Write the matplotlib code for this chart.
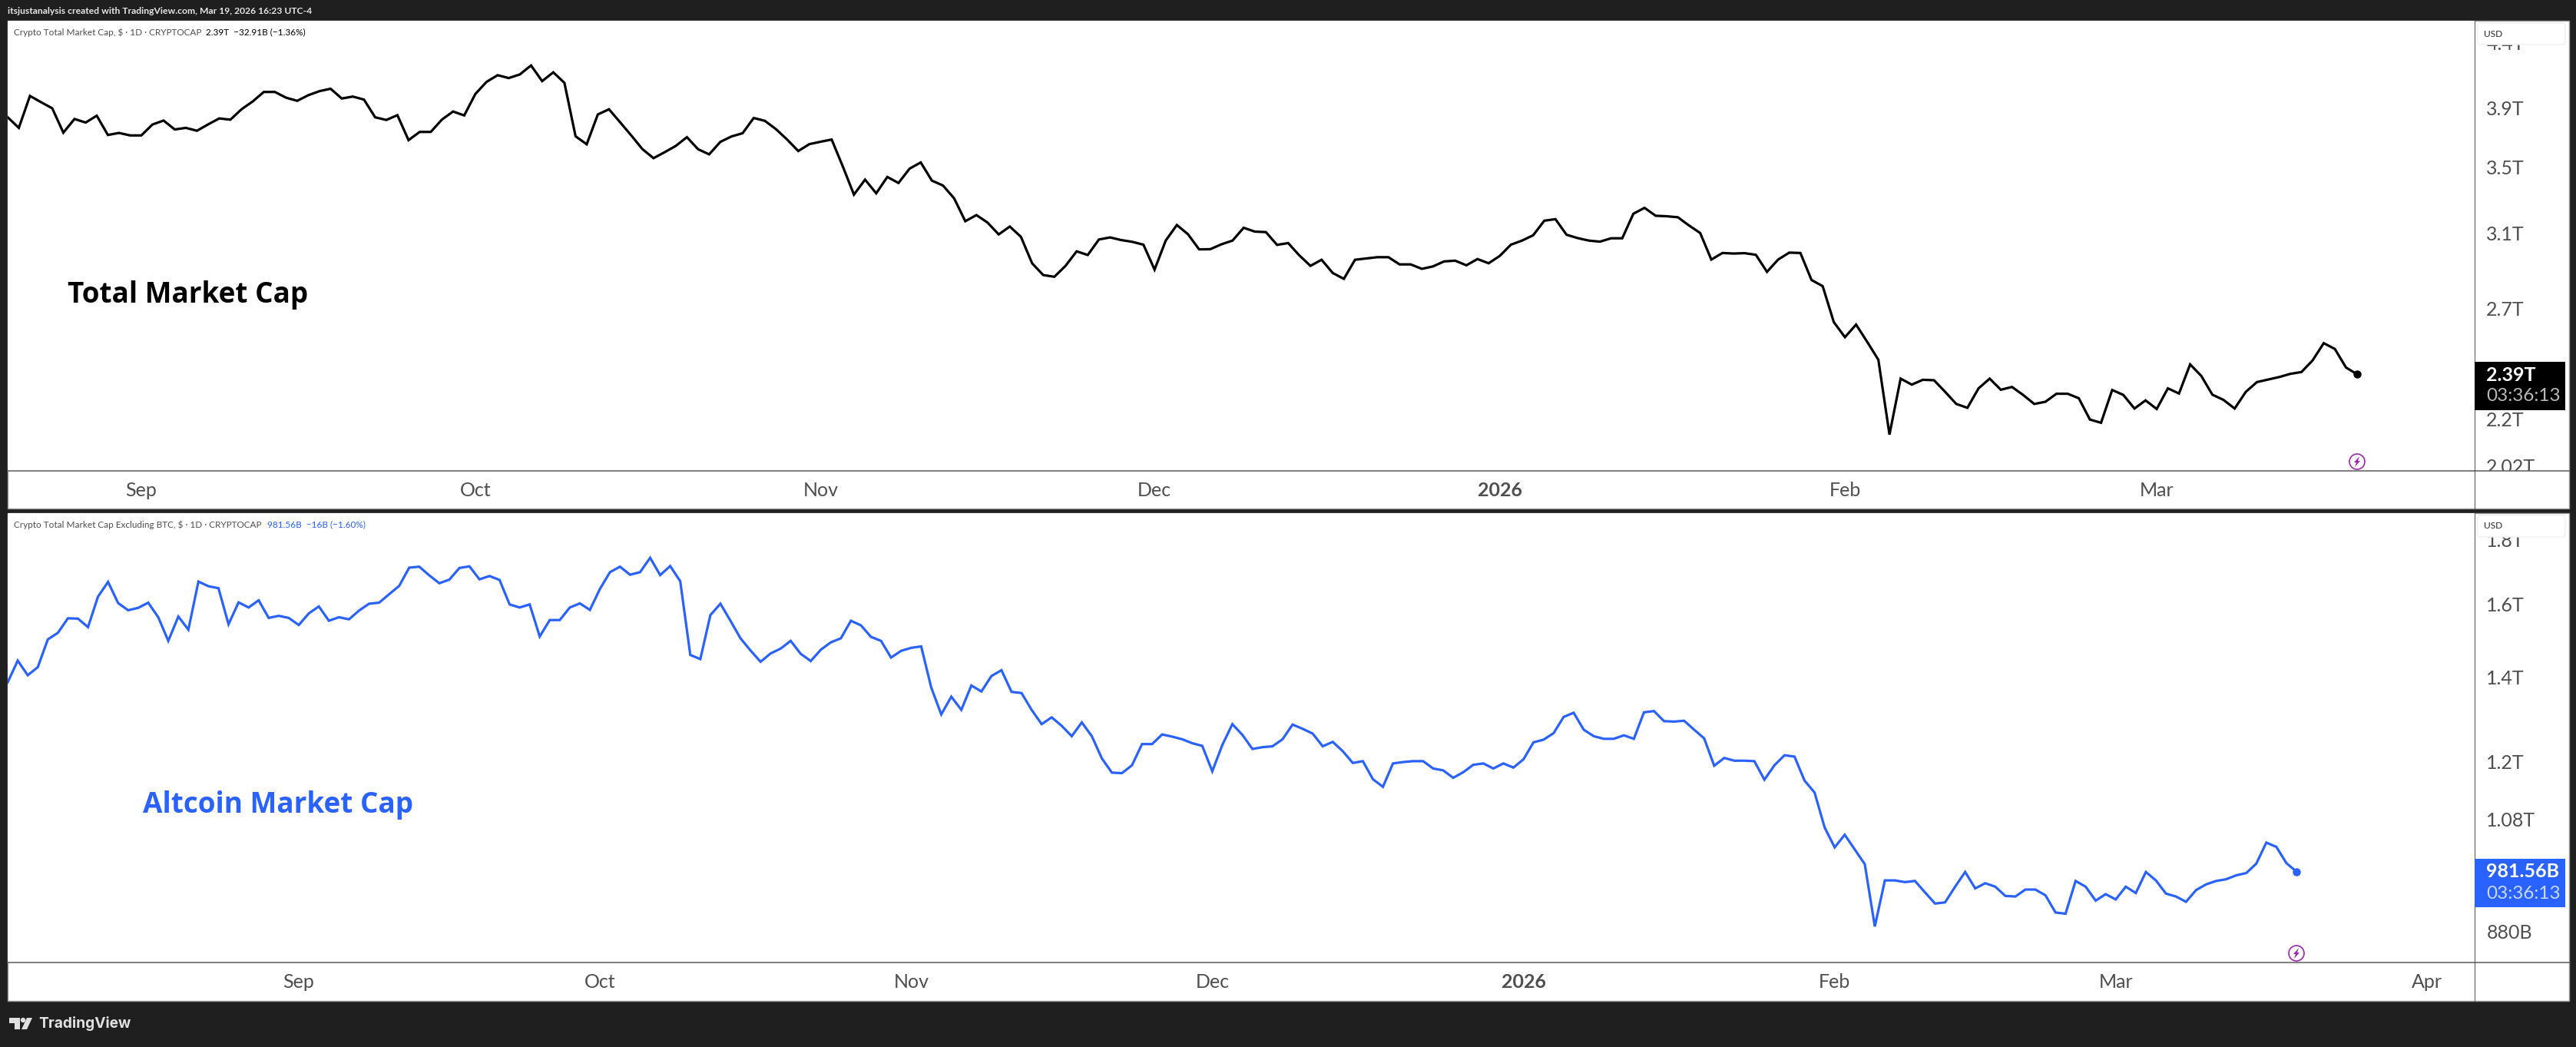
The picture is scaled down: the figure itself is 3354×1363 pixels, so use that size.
import pandas as pd
import matplotlib.pyplot as plt
import matplotlib.dates as mdates
from matplotlib.patches import Rectangle, Circle, Polygon, FancyBboxPatch
from matplotlib.lines import Line2D
from matplotlib.ticker import NullLocator
from matplotlib.transforms import Affine2D, Bbox

# --------------------------------------------------------------
# Data
# --------------------------------------------------------------
total_start = "2025-08-20"
total_cap = [  # trillion USD
    3.836, 3.762, 3.990, 3.944, 3.900, 3.729, 3.824, 3.799, 3.847, 3.713,
    3.727, 3.710, 3.710, 3.785, 3.813, 3.751, 3.762, 3.742, 3.786, 3.828,
    3.819, 3.893, 3.949, 4.019, 4.019, 3.977, 3.954, 3.995, 4.025, 4.043,
    3.971, 3.985, 3.963, 3.836, 3.817, 3.851, 3.678, 3.734, 3.734, 3.820,
    3.877, 3.849, 4.004, 4.094, 4.145, 4.123, 4.151, 4.220, 4.100, 4.167,
    4.087, 3.704, 3.650, 3.856, 3.893, 3.801, 3.710, 3.618, 3.558, 3.597,
    3.639, 3.698, 3.617, 3.583, 3.666, 3.703, 3.725, 3.831, 3.811, 3.753,
    3.682, 3.605, 3.651, 3.667, 3.682, 3.504, 3.327, 3.420, 3.335, 3.437,
    3.399, 3.490, 3.530, 3.414, 3.383, 3.304, 3.168, 3.204, 3.160, 3.092,
    3.137, 3.078, 2.932, 2.869, 2.860, 2.918, 2.997, 2.977, 3.063, 3.075,
    3.060, 3.050, 3.034, 2.898, 3.057, 3.146, 3.093, 3.008, 3.009, 3.036,
    3.057, 3.130, 3.108, 3.105, 3.033, 3.043, 2.975, 2.918, 2.951, 2.880,
    2.849, 2.951, 2.958, 2.965, 2.965, 2.926, 2.926, 2.902, 2.915, 2.942,
    2.946, 2.921, 2.955, 2.932, 2.972, 3.034, 3.057, 3.087, 3.171, 3.180,
    3.090, 3.071, 3.057, 3.051, 3.070, 3.070, 3.212, 3.247, 3.200, 3.197,
    3.191, 3.143, 3.100, 2.952, 2.988, 2.985, 2.987, 2.978, 2.886, 2.952,
    2.990, 2.988, 2.843, 2.811, 2.631, 2.559, 2.619, 2.537, 2.455, 2.139,
    2.371, 2.345, 2.366, 2.364, 2.314, 2.263, 2.247, 2.329, 2.371, 2.323,
    2.335, 2.301, 2.263, 2.272, 2.306, 2.306, 2.287, 2.199, 2.186, 2.322,
    2.301, 2.244, 2.278, 2.242, 2.329, 2.307, 2.434, 2.383, 2.302, 2.280,
    2.244, 2.314, 2.356, 2.367, 2.378, 2.392, 2.400, 2.452, 2.531, 2.504,
    2.420, 2.390,
]
alt_start = "2025-08-03"
alt_cap = [  # billion USD
    1387, 1443, 1405, 1426, 1500, 1518, 1559, 1558, 1534, 1622,
    1666, 1603, 1582, 1589, 1604, 1562, 1496, 1564, 1527, 1667,
    1653, 1647, 1542, 1605, 1590, 1611, 1560, 1566, 1560, 1540,
    1573, 1593, 1552, 1562, 1556, 1581, 1601, 1604, 1629, 1654,
    1710, 1713, 1686, 1662, 1673, 1709, 1714, 1674, 1684, 1672,
    1599, 1590, 1599, 1508, 1554, 1554, 1590, 1602, 1583, 1645,
    1696, 1713, 1688, 1696, 1741, 1687, 1715, 1668, 1458, 1447,
    1568, 1601, 1552, 1503, 1470, 1440, 1462, 1475, 1496, 1461,
    1442, 1472, 1492, 1503, 1552, 1539, 1507, 1496, 1451, 1469,
    1477, 1481, 1374, 1308, 1351, 1319, 1379, 1364, 1403, 1418,
    1363, 1360, 1319, 1285, 1301, 1281, 1257, 1289, 1257, 1207,
    1176, 1175, 1192, 1239, 1239, 1261, 1256, 1250, 1241, 1235,
    1179, 1237, 1285, 1260, 1228, 1232, 1234, 1250, 1284, 1274,
    1263, 1234, 1244, 1223, 1197, 1201, 1162, 1146, 1196, 1199,
    1201, 1201, 1185, 1181, 1165, 1177, 1193, 1196, 1185, 1196,
    1187, 1205, 1243, 1249, 1264, 1302, 1312, 1272, 1257, 1251,
    1251, 1259, 1251, 1313, 1316, 1292, 1291, 1293, 1272, 1252,
    1191, 1208, 1202, 1202, 1201, 1161, 1192, 1214, 1211, 1159,
    1134, 1064, 1026, 1050, 1022, 995, 888, 966, 966, 963,
    965, 945, 926, 928, 955, 981, 952, 961, 955, 939,
    938, 950, 950, 940, 911, 909, 965, 955, 931, 942,
    933, 955, 944, 981, 966, 943, 938, 929, 949, 959,
    965, 968, 975, 979, 996, 1035, 1027, 997, 981.56,
]

total_yticks = [2.02, 2.2, 2.7, 3.1, 3.5, 3.9, 4.4]
total_ylabels = ["2.02T", "2.2T", "2.7T", "3.1T", "3.5T", "3.9T", "4.4T"]
alt_yticks = [880, 1080, 1200, 1400, 1600, 1800]
alt_ylabels = ["880B", "1.08T", "1.2T", "1.4T", "1.6T", "1.8T"]

total_xticks = ["2025-09-01", "2025-10-01", "2025-11-01", "2025-12-01", "2026-01-01", "2026-02-01", "2026-03-01"]
total_xlabels = ["Sep", "Oct", "Nov", "Dec", "2026", "Feb", "Mar"]
alt_xticks = total_xticks + ["2026-04-01"]
alt_xlabels = total_xlabels + ["Apr"]

BLUE = "#2962FF"
DARK = "#1f1f1f"
GREY = "#4f4f4f"
LINE = "#5d5d5d"
W, H = 3355, 1363
FONT = "Lato"

plt.rcParams["font.family"] = [FONT, "DejaVu Sans"]
fig = plt.figure(figsize=(W / 100, H / 100), dpi=100, facecolor=DARK)
# decorations are placed in picture pixels, y going down
PX = Affine2D().scale(1, -1).translate(0, H)


def pane(y_top, y_axis, y_bottom, values, start, ylim, xdays, yticks, ylabels, xticks, xlabels, color):
    fig.add_artist(Rectangle((10, y_top), 3335, y_bottom - y_top, transform=PX, fc="white", ec="#9a9a9a", lw=1, zorder=-1))
    ax = fig.add_axes([10 / W, 1 - y_axis / H, 3212 / W, (y_axis - y_top) / H], yscale="log")
    dates = pd.date_range(start, periods=len(values))
    ax.plot(dates, values, color=color, lw=2.3, solid_joinstyle="miter")
    ax.plot(dates[-1:], values[-1:], "o", color=color, ms=6.5)
    x0 = mdates.date2num(dates[0])
    ax.set_xlim(x0, x0 + xdays)
    ax.set_ylim(*ylim)
    ax.set_xticks(pd.to_datetime(xticks), xlabels)
    ax.set_yticks(yticks, ylabels)
    ax.yaxis.set_minor_locator(NullLocator())
    ax.xaxis.set_minor_locator(NullLocator())
    ax.yaxis.tick_right()
    ax.tick_params(axis="both", length=0, labelsize=18, labelcolor=GREY)
    ax.tick_params(axis="x", pad=10)
    ax.tick_params(axis="y", pad=11)
    for s in ["top", "left"]:
        ax.spines[s].set_visible(False)
    ax.spines["bottom"].set_color(LINE)
    ax.spines["right"].set_color(LINE)
    ax.spines["bottom"].set_linewidth(1.1)
    ax.spines["right"].set_linewidth(0.8)
    for lab in ax.get_xticklabels():
        if lab.get_text() == "2026":
            lab.set_fontweight("bold")
    clip = Bbox.from_extents(3222, H - y_axis, 3345, H - y_top)
    for lab in ax.get_yticklabels():
        lab.set_clip_on(True)
        lab.set_clip_box(clip)
    # time scale band and its right border, USD box
    fig.add_artist(Line2D([3222, 3222], [y_axis, y_bottom], transform=PX, color=LINE, lw=0.8))
    fig.add_artist(Line2D([3222, 3345], [y_axis, y_axis], transform=PX, color=LINE, lw=1.1))
    fig.add_artist(FancyBboxPatch((3226, y_top + 3), 114, 28, boxstyle="round,pad=0,rounding_size=4", transform=PX, fc="white", ec="#f0f0f0", lw=1))
    fig.text(3234, y_top + 17, "USD", transform=PX, fontsize=8.6, color="#222222", va="center")
    return ax


# --------------------------------------------------------------
# Top pane: total market cap
# --------------------------------------------------------------
ax1 = pane(27, 613, 662, total_cap, total_start, (2.0007, 4.582), 221.55,
           total_yticks, total_ylabels, total_xticks, total_xlabels, "black")
# --------------------------------------------------------------
# Bottom pane: altcoin market cap
# --------------------------------------------------------------
ax2 = pane(668, 1253, 1303, alt_cap, alt_start, (831.5, 1889.0), 245.75,
           alt_yticks, alt_ylabels, alt_xticks, alt_xlabels, BLUE)


def flash(x, y):
    fig.add_artist(Circle((x, y), 10, transform=PX, fc="white", ec="#9c27b0", lw=1.2))
    fig.add_artist(Polygon([(x + 3, y - 7), (x - 4, y + 1), (x - 1, y + 1), (x - 3, y + 7), (x + 4, y - 1), (x + 1, y - 1)],
                           transform=PX, fc="#9c27b0", ec="none"))


def price_tag(y_top, y_bot, bg, price, clock, clock_color):
    fig.add_artist(Rectangle((3222, y_top), 118, y_bot - y_top, transform=PX, fc=bg, ec="none"))
    fig.text(3237, y_top + 17, price, transform=PX, color="white", fontsize=18, fontweight="bold", va="center")
    fig.text(3237, y_top + 45, clock, transform=PX, color=clock_color, fontsize=17.5, va="center")


flash(3069, 601)
flash(2990, 1241)
price_tag(471, 534, "black", "2.39T", "03:36:13", "#b8b8b8")
price_tag(1118, 1181, BLUE, "981.56B", "03:36:13", "#c9d8ff")

# --------------------------------------------------------------
# Texts
# --------------------------------------------------------------
fig.text(10, 15, "itsjustanalysis created with TradingView.com, Mar 19, 2026 16:23 UTC-4", transform=PX,
         color="#e6e6e6", fontsize=8.7, va="center", fontweight="bold")
fig.text(18, 42, "Crypto Total Market Cap, $ · 1D · CRYPTOCAP", transform=PX, color=GREY, fontsize=8.5, va="center")
fig.text(268, 42, "2.39T  −32.91B (−1.36%)", transform=PX, color="black", fontsize=8.5, va="center")
fig.text(18, 683, "Crypto Total Market Cap Excluding BTC, $ · 1D · CRYPTOCAP", transform=PX, color=GREY, fontsize=8.5, va="center")
fig.text(348, 683, "981.56B  −16B (−1.60%)", transform=PX, color=BLUE, fontsize=8.5, va="center")

fig.text(88, 384, "Total Market Cap", transform=PX, color="black", fontsize=26.6, fontweight="bold", va="center", family="Open Sans")
fig.text(186, 1048, "Altcoin Market Cap", transform=PX, color=BLUE, fontsize=26.6, fontweight="bold", va="center", family="Open Sans")

# TradingView mark
fig.add_artist(Polygon([(12, 1325), (26, 1325), (26, 1340), (19, 1340), (19, 1332), (12, 1332)], transform=PX, fc="#e0e0e0", ec="none"))
fig.add_artist(Circle((30, 1328), 3.2, transform=PX, fc="#e0e0e0", ec="none"))
fig.add_artist(Polygon([(35, 1325), (42, 1325), (35, 1340), (28, 1340)], transform=PX, fc="#e0e0e0", ec="none"))
fig.text(50, 1333, "TradingView", transform=PX, color="#e0e0e0", fontsize=13.8, fontweight="bold", va="center", family="Inter")

fig.savefig("out.png", facecolor=DARK)
